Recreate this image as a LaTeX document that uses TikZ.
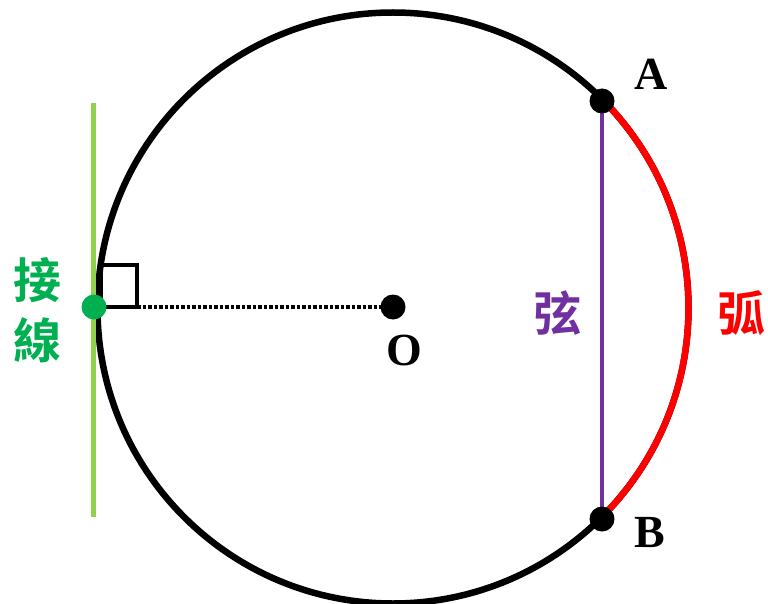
\documentclass[tikz,border=0pt]{standalone}
\usepackage{fontspec}
\setmainfont{Liberation Serif}
\newfontfamily\cjk{Noto Sans CJK TC}[BoldFont={* Bold}]
\definecolor{tgreen}{RGB}{146,208,80}
\definecolor{dgreen}{RGB}{0,176,80}
\definecolor{cpurple}{RGB}{112,48,160}
\definecolor{cred}{RGB}{255,0,0}
\tikzset{
  dot/.style={circle,fill=black,inner sep=0pt,minimum size=25pt},
  lbl/.style={font=\fontsize{46}{46}\selectfont\bfseries,inner sep=0pt},
  cjklbl/.style={font=\cjk\bfseries\fontsize{48}{48}\selectfont,inner sep=0pt},
}
\begin{document}
\begin{tikzpicture}[x=1pt,y=-1pt]
\useasboundingbox (0,0) rectangle (768,604);
\coordinate (C) at (393,308);
% circle
\draw[line width=6.5pt] (C) circle[radius=295.5];
% tangent line
\coordinate (T1) at (93.5,103);
\coordinate (T2) at (93.5,517);
\draw[tgreen,line width=5.5pt] (T1) -- (T2);
% right angle mark
\draw[line width=3.5pt] (101,265) rectangle (137,307);
% dotted radius
\coordinate (R1) at (137,307);
\draw[line width=3.5pt,dotted] (R1) -- (393,307);
% red arc
\draw[cred,line width=6.5pt] (C) ++(45:295.5) arc[start angle=45,end angle=-45,radius=295.5];
% chord
\coordinate (Ap) at (602,101);
\coordinate (Bp) at (602,519);
\draw[cpurple,line width=4.5pt] (Ap) -- (Bp);
% dots
\node[dot] (O) at (393,307) {};
\node[dot] (A) at (602,101) {};
\node[dot] (B) at (602,519) {};
\node[dot,fill=dgreen] (Tg) at (94,307) {};
% labels
\node[lbl] (LA) at (651,74) {A};
\node[lbl] (LB) at (650,533) {B};
\node[lbl] (LO) at (404,350) {O};
\node[cjklbl,text=cpurple] (Lchord) at (557,313) {弦};
\node[cjklbl,text=cred] (Larc) at (741,313) {弧};
\node[cjklbl,text=dgreen] (Lt1) at (37,280) {接};
\node[cjklbl,text=dgreen] (Lt2) at (37,340) {線};
\end{tikzpicture}
\end{document}
